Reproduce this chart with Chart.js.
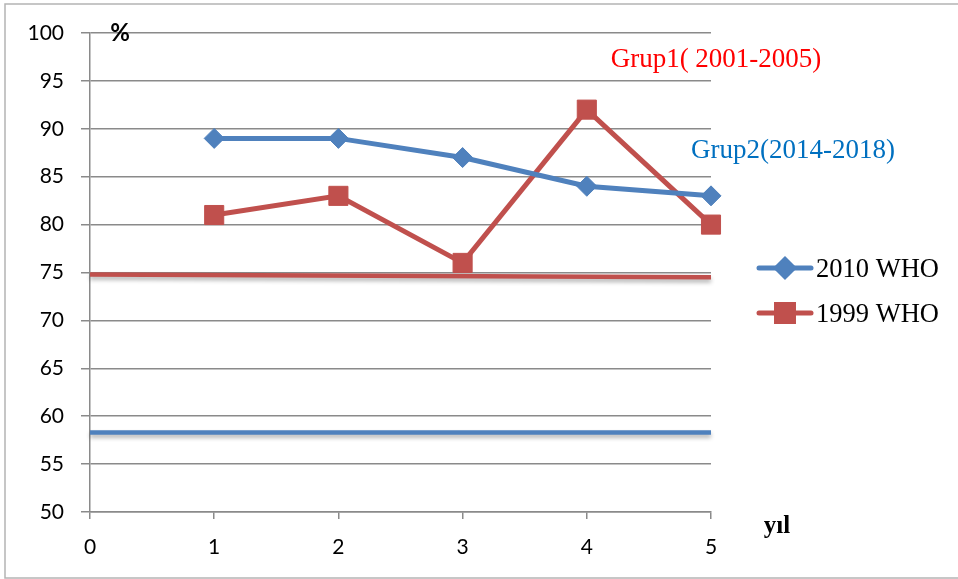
<!DOCTYPE html>
<html>
<head>
<meta charset="utf-8">
<script src="https://cdn.jsdelivr.net/npm/chart.js@4/dist/chart.umd.min.js"></script>
<style>
  html, body { margin: 0; padding: 0; background: #fff; }
  canvas { display: block; }
</style>
</head>
<body>
<canvas id="c" width="958" height="579"></canvas>
<script>
// Years on the x axis (0..5) and the two WHO-criteria series, in percent
const years = [1, 2, 3, 4, 5];
const who2010 = [89, 89, 87, 84, 83];
const who1999 = [81, 83, 76, 92, 80];
const seriesNames = ['2010 WHO', '1999 WHO'];

// Reference levels drawn across the whole period (start value, end value)
const refSpan = [0, 5];
const ref1999 = [74.8, 74.5];
const ref2010 = [58.3, 58.3];

const xTicks = [0, 1, 2, 3, 4, 5];
const yTicks = [50, 55, 60, 65, 70, 75, 80, 85, 90, 95, 100];

const groupLabels = ['Grup1( 2001-2005)', 'Grup2(2014-2018)'];

const BLUE = '#4F81BD';
const RED = '#C0504D';
const GRID = '#8a8a8a';

const toPoints = (xs, ys) => xs.map((x, i) => ({ x: x, y: ys[i] }));

// Soft drop shadow for the two reference lines
const shadowPlugin = {
  id: 'refShadow',
  beforeDatasetDraw(chart, args) {
    const ds = chart.data.datasets[args.index];
    if (ds.isRef) {
      const ctx = chart.ctx;
      ctx.save();
      ctx.shadowColor = 'rgba(0,0,0,0.3)';
      ctx.shadowBlur = 4;
      ctx.shadowOffsetY = 3;
    }
  },
  afterDatasetDraw(chart, args) {
    const ds = chart.data.datasets[args.index];
    if (ds.isRef) chart.ctx.restore();
  }
};

// Frame, axis captions, group captions and the legend
const decorPlugin = {
  id: 'decor',
  beforeDraw(chart) {
    const ctx = chart.ctx;
    ctx.save();
    ctx.fillStyle = '#fff';
    ctx.fillRect(0, 0, chart.width, chart.height);
    ctx.strokeStyle = '#b4b4b4';
    ctx.lineWidth = 1.5;
    ctx.strokeRect(5, 4, chart.width + 10, 574);
    ctx.restore();
  },
  afterDraw(chart) {
    const ctx = chart.ctx;
    ctx.save();
    ctx.textBaseline = 'alphabetic';

    // axis captions
    ctx.fillStyle = '#000';
    ctx.font = 'bold 24px Lato, "Liberation Sans", sans-serif';
    ctx.textAlign = 'center';
    ctx.fillText('%', 120, 41);
    ctx.font = 'bold 25px "Liberation Serif", "Times New Roman", serif';
    ctx.fillText('yıl', 777, 533);

    // group captions
    ctx.font = '27px "Liberation Serif", "Times New Roman", serif';
    ctx.fillStyle = '#FF0000';
    ctx.fillText(groupLabels[0], 716, 67);
    ctx.fillStyle = '#0070C0';
    ctx.fillText(groupLabels[1], 793, 158);

    // legend
    const items = chart.data.datasets.filter(d => !d.isRef);
    const rowsY = [268, 313];
    items.forEach((d, i) => {
      const y = rowsY[i];
      ctx.strokeStyle = d.borderColor;
      ctx.lineWidth = 5;
      ctx.lineCap = 'round';
      ctx.beginPath();
      ctx.moveTo(759, y);
      ctx.lineTo(811, y);
      ctx.stroke();
      Chart.helpers.drawPoint(ctx, {
        pointStyle: d.pointStyle,
        radius: d.pointStyle === 'rect' ? 12 : 8.5,
        borderWidth: 1
      }, 785, y);
      ctx.fillStyle = d.pointBackgroundColor;
      ctx.strokeStyle = d.pointBorderColor;
      ctx.lineWidth = 1;
      ctx.fill();
      ctx.stroke();
      ctx.fillStyle = '#000';
      ctx.textAlign = 'left';
      ctx.font = '26.5px "Liberation Serif", "Times New Roman", serif';
      ctx.fillText(d.label, 816, y + 9);
    });
    ctx.restore();
  }
};

const tickFont = { family: 'Lato, "Liberation Sans", sans-serif', size: 21 };

new Chart(document.getElementById('c'), {
  type: 'line',
  data: {
    datasets: [
      {
        label: 'ref-1999',
        isRef: true,
        data: toPoints(refSpan, ref1999),
        borderColor: RED,
        borderWidth: 4.5,
        pointRadius: 0,
        borderCapStyle: 'butt',
        clip: false
      },
      {
        label: 'ref-2010',
        isRef: true,
        data: toPoints(refSpan, ref2010),
        borderColor: BLUE,
        borderWidth: 4.5,
        pointRadius: 0,
        clip: false
      },
      {
        label: seriesNames[0],
        data: toPoints(years, who2010),
        borderColor: BLUE,
        backgroundColor: BLUE,
        pointBackgroundColor: BLUE,
        pointBorderColor: BLUE,
        borderWidth: 5,
        pointStyle: 'rectRot',
        pointRadius: 10,
        pointBorderWidth: 1,
        clip: false
      },
      {
        label: seriesNames[1],
        data: toPoints(years, who1999),
        borderColor: RED,
        backgroundColor: RED,
        pointBackgroundColor: RED,
        pointBorderColor: RED,
        borderWidth: 5,
        pointStyle: 'rect',
        pointRadius: 13.5,
        pointBorderWidth: 1,
        clip: false
      }
    ]
  },
  options: {
    responsive: false,
    animation: false,
    events: [],
    layout: { padding: { left: 0, top: 33, right: 247, bottom: 0 } },
    plugins: {
      legend: { display: false },
      tooltip: { enabled: false }
    },
    scales: {
      x: {
        type: 'linear',
        min: xTicks[0],
        max: xTicks[xTicks.length - 1],
        afterFit(s) { s.height = 67; },
        afterBuildTicks(s) { s.ticks = xTicks.map(v => ({ value: v })); },
        ticks: { color: '#000', font: tickFont, padding: 16 },
        grid: { drawOnChartArea: false, color: GRID, lineWidth: 1.5, tickLength: 7 },
        border: { color: GRID, width: 1.5 }
      },
      y: {
        min: yTicks[0],
        max: yTicks[yTicks.length - 1],
        afterFit(s) { s.width = 90; },
        afterBuildTicks(s) { s.ticks = yTicks.map(v => ({ value: v })); },
        ticks: { color: '#000', font: tickFont, padding: 17 },
        grid: { color: GRID, lineWidth: 1.5, tickLength: 9 },
        border: { color: GRID, width: 1.5 }
      }
    }
  },
  plugins: [shadowPlugin, decorPlugin]
});
</script>
</body>
</html>
